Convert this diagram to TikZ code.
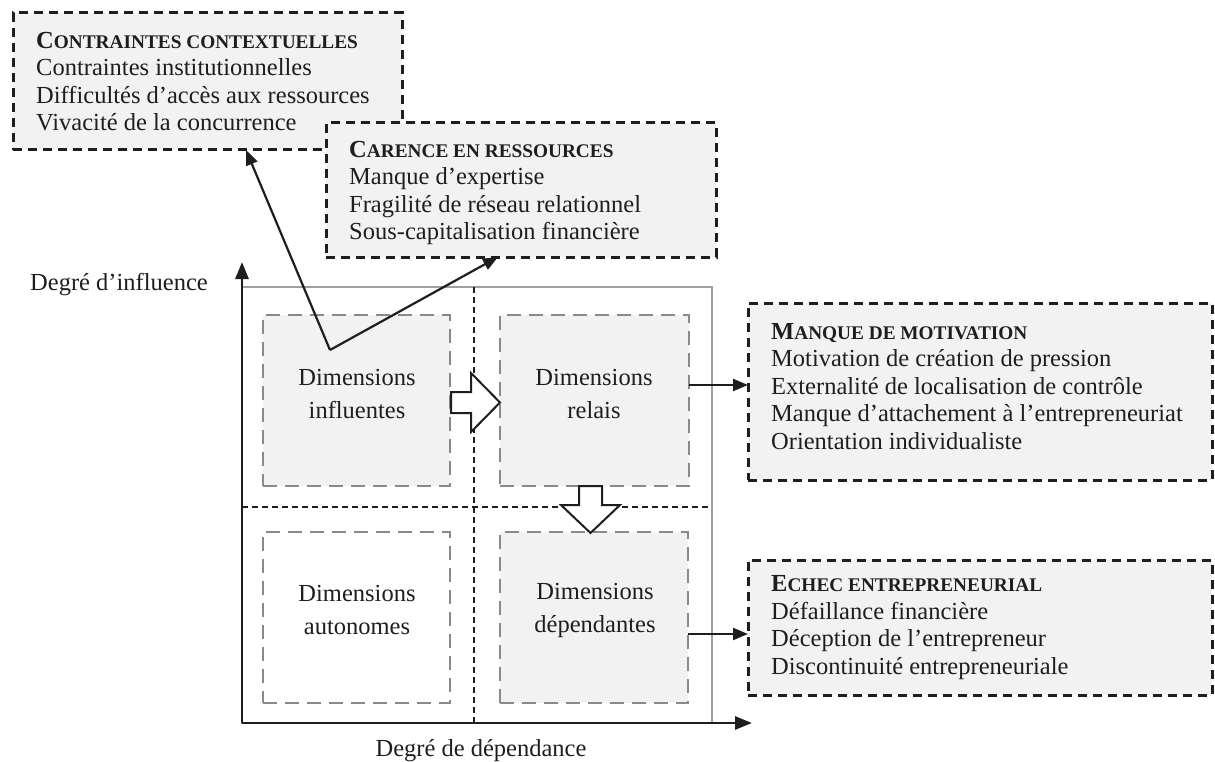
\documentclass[tikz,border=0pt]{standalone}
\usepackage{fontspec}
\setmainfont{Liberation Serif}
\usetikzlibrary{arrows.meta}
\definecolor{boxfill}{HTML}{F2F2F2}
\definecolor{ink}{HTML}{1E1E1E}
\definecolor{innerline}{HTML}{8A8A8A}
\definecolor{framegray}{HTML}{A0A0A0}
\newcommand\bxfont{\fontsize{24.5pt}{27.5pt}\selectfont}
\newcommand\dmfont{\fontsize{24.5pt}{33pt}\selectfont}
\newcommand\sctitle[2]{{\bfseries #1{\fontsize{19.3pt}{19.3pt}\selectfont #2}}}
\begin{document}
\begin{tikzpicture}[x=1pt,y=-1pt,
  obox/.style={draw=ink, line width=3pt, dash pattern=on 9pt off 6pt, fill=boxfill, outer sep=0pt, inner sep=0pt},
  boxtext/.style={align=left, font=\bxfont, text=ink, inner sep=0pt, anchor=west},
  ibox/.style={draw=innerline, line width=2.2pt, dash pattern=on 14pt off 8pt, fill=boxfill, minimum width=187pt, minimum height=171pt, outer sep=0pt, inner sep=0pt},
  dimtext/.style={align=center, font=\dmfont, text=ink, inner sep=0pt},
  divider/.style={draw=ink, line width=2pt, dash pattern=on 6pt off 4pt},
  axis/.style={draw=ink, line width=2.8pt, -{Triangle[length=17pt,width=13pt]}},
  conn/.style={draw=ink, line width=2.2pt, -{Triangle[length=15pt,width=12pt]}},
  fat/.style={draw=ink, line width=2pt, fill=white, line join=miter},
  axislabel/.style={font=\bxfont, text=ink, inner sep=0pt}
]
\useasboundingbox (0,0) rectangle (1215,762);

% frame and dividers
\draw[framegray, line width=1.2pt] (242,287) rectangle (712,723);
\draw[divider] (474,287) -- (474,723);
\draw[divider] (242,507) -- (712,507);

% inner boxes
\node[ibox] (inf) at (356.5,400.5) {};
\node[ibox, minimum width=189pt] (rel) at (594.5,400.5) {};
\node[ibox, fill=white] (aut) at (356.5,617.5) {};
\node[ibox, minimum width=188pt] (dep) at (594,617.5) {};
\node[dimtext] (tinf) at (357,394) {Dimensions\\influentes};
\node[dimtext] (trel) at (594,394) {Dimensions\\relais};
\node[dimtext] (taut) at (357,610) {Dimensions\\autonomes};
\node[dimtext] (tdep) at (595,610) {Dimensions\\dépendantes};

% fat arrows
\draw[fat] (451,392) -- (471,392) -- (471,373) -- (500,402.5) -- (471,432) -- (471,413) -- (451,413) -- cycle;
\draw[fat] (579,486) -- (602,486) -- (602,505) -- (620,505) -- (590.5,533) -- (561,505) -- (579,505) -- cycle;

% axes
\coordinate (o) at (242,723);
\coordinate (ytip) at (242,262);
\coordinate (xtip) at (752,723);
\draw[axis] (o) -- (ytip);
\draw[axis] (o) -- (xtip);
\node[axislabel] (ylab) at (119,285) {Degré d’influence};
\node[axislabel] (xlab) at (481,751) {Degré de dépendance};

% outer boxes
\node[obox, minimum width=389pt, minimum height=137pt] (c1) at (207.5,81.5) {};
\node[boxtext] (c1t) at ([xshift=23pt]c1.west) {\sctitle{C}{ONTRAINTES CONTEXTUELLES}\\Contraintes institutionnelles\\Difficultés d’accès aux ressources\\Vivacité de la concurrence};
\node[obox, minimum width=390pt, minimum height=134pt] (c2) at (521,190) {};
\node[boxtext] (c2t) at ([xshift=23pt,yshift=-3pt]c2.west) {\sctitle{C}{ARENCE EN RESSOURCES}\\Manque d’expertise\\Fragilité de réseau relationnel\\Sous-capitalisation financière};
\node[obox, minimum width=464pt, minimum height=177pt] (m3) at (980,391.5) {};
\node[boxtext] (m3t) at ([xshift=23pt,yshift=5pt]m3.west) {\sctitle{M}{ANQUE DE MOTIVATION}\\Motivation de création de pression\\Externalité de localisation de contrôle\\Manque d’attachement à l’entrepreneuriat\\Orientation individualiste};
\node[obox, minimum width=464pt, minimum height=135pt] (e4) at (980,627.5) {};
\node[boxtext] (e4t) at ([xshift=23pt]e4.west) {\sctitle{E}{CHEC ENTREPRENEURIAL}\\Défaillance financière\\Déception de l’entrepreneur\\Discontinuité entrepreneuriale};

% connectors
\coordinate (v) at (330,350);
\path (c1.south west) -- (c1.south east) coordinate[pos=0.599] (t1);
\path (c2.south west) -- (c2.south east) coordinate[pos=0.441] (t2);
\draw[conn] (v) -- (t1);
\draw[conn] (v) -- (t2);
\draw[conn] ([yshift=15.5pt]rel.east) -- ([yshift=15.5pt]rel.east -| m3.west);
\draw[conn] ([yshift=-16.5pt]dep.east) -- ([yshift=-16.5pt]dep.east -| e4.west);
\end{tikzpicture}
\end{document}
